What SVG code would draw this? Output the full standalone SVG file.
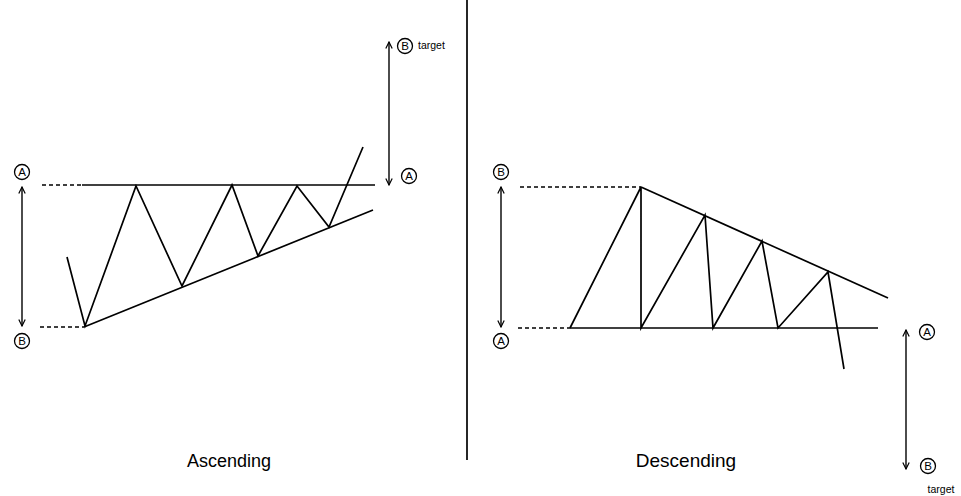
<svg xmlns="http://www.w3.org/2000/svg" width="961" height="496" viewBox="0 0 961 496">
<style>
.ln{stroke:#000;stroke-width:1.7;fill:none;stroke-linejoin:miter}
.dash{stroke:#000;stroke-width:1.4;stroke-dasharray:4,3;fill:none}
.ar{stroke:#000;stroke-width:1.4;fill:none}
.c{stroke:#000;stroke-width:1.3;fill:#fff}
.cl{font-family:"Liberation Sans",Arial,sans-serif;font-size:11.5px;text-anchor:middle;fill:#000}
.t{font-family:"Liberation Sans",Arial,sans-serif;font-size:10.5px;fill:#000}
.title{font-family:"Liberation Sans",Arial,sans-serif;font-size:18px;text-anchor:middle;fill:#000}
</style>
<defs>
<marker id="ah" viewBox="0 0 10 10" refX="9" refY="5" markerWidth="8" markerHeight="8" markerUnits="userSpaceOnUse" orient="auto-start-reverse">
<path d="M1,1 L9,5 L1,9" fill="none" stroke="#000" stroke-width="1.5"/>
</marker>
</defs>
<rect width="961" height="496" fill="#fff"/>
<g id="divider"><line class="ln" x1="467" y1="0" x2="467" y2="460" stroke-width="1.4"/></g>

<g id="ascending">
<line class="dash" x1="42" y1="185" x2="82" y2="185"/>
<line class="dash" x1="40" y1="327" x2="84" y2="327"/>
<line class="ln" x1="82" y1="185" x2="375" y2="185"/>
<line class="ln" x1="84" y1="327" x2="373" y2="210"/>
<polyline class="ln" points="67,257 85,326 136,186 182,286 232,185 258,256 297,186 329,227 363,147"/>
</g>
<g id="descending">
<line class="dash" x1="520" y1="187" x2="641" y2="187"/>
<line class="dash" x1="518" y1="328" x2="570" y2="328"/>
<line class="ln" x1="570" y1="328" x2="878" y2="328"/>
<line class="ln" x1="641" y1="187" x2="888" y2="298"/>
<polyline class="ln" points="570,328 641,187 641,328 705,215 713,328 762,241 778,328 828,272 844,369"/>
</g>

<g id="connectors">
<line class="ar" x1="22" y1="187" x2="22" y2="326" marker-start="url(#ah)" marker-end="url(#ah)"/>
<line class="ar" x1="389" y1="42" x2="389" y2="185" marker-start="url(#ah)" marker-end="url(#ah)"/>
<line class="ar" x1="501" y1="187" x2="501" y2="327" marker-start="url(#ah)" marker-end="url(#ah)"/>
<line class="ar" x1="906" y1="330" x2="906" y2="469" marker-start="url(#ah)" marker-end="url(#ah)"/>
</g>

<g id="asc-A-left"><circle class="c" cx="22" cy="172" r="7.5"/><text class="cl" x="22" y="176">A</text></g>
<g id="asc-B-left"><circle class="c" cx="22" cy="341" r="7.5"/><text class="cl" x="22" y="345">B</text></g>
<g id="asc-B-target"><circle class="c" cx="405" cy="46" r="7.5"/><text class="cl" x="405" y="50">B</text><text class="t" x="418" y="49">target</text></g>
<g id="asc-A-right"><circle class="c" cx="409" cy="176" r="7.5"/><text class="cl" x="409" y="180">A</text></g>

<g id="desc-B-left"><circle class="c" cx="501" cy="172" r="7.5"/><text class="cl" x="501" y="176">B</text></g>
<g id="desc-A-left"><circle class="c" cx="501" cy="341" r="7.5"/><text class="cl" x="501" y="345">A</text></g>
<g id="desc-A-right"><circle class="c" cx="927" cy="332" r="7.5"/><text class="cl" x="927" y="336">A</text></g>
<g id="desc-B-target"><circle class="c" cx="928" cy="466" r="7.5"/><text class="cl" x="928" y="470">B</text><text class="t" x="941" y="493" text-anchor="middle">target</text></g>

<text class="title" x="229" y="467">Ascending</text>
<text class="title" x="686" y="467" style="font-size:19px">Descending</text>
</svg>
